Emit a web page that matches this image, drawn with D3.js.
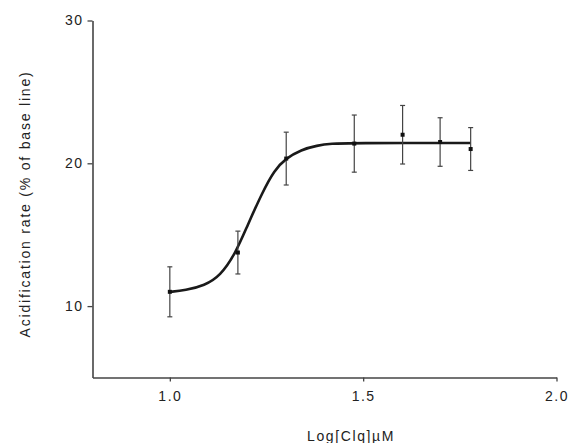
<!DOCTYPE html>
<html>
<head>
<meta charset="utf-8">
<script src="https://cdn.jsdelivr.net/npm/d3@7"></script>
<style>
  body { margin: 0; background: #fff; }
  svg text { font-family: "Liberation Sans", Arial, sans-serif; fill: #222; }
</style>
</head>
<body>
<svg id="chart"></svg>
<script>
// measured points (log concentration, % of base line, sem)
var logConc = [1.0, 1.176, 1.301, 1.477, 1.602, 1.699, 1.778]
var rate = [11.0, 13.75, 20.33, 21.38, 22.0, 21.49, 21.0]
var err = [1.75, 1.5, 1.85, 2.0, 2.05, 1.7, 1.5]

// fitted curve
var fitX = [1.0, 1.0, 1.04, 1.09, 1.13, 1.17, 1.20, 1.24, 1.27, 1.30, 1.34, 1.38, 1.42, 1.46, 1.778, 1.778]
var fitY = [11.0, 11.0, 11.1, 11.45, 12.1, 13.7, 15.6, 18.0, 19.5, 20.35, 20.95, 21.25, 21.38, 21.42, 21.42, 21.42]

var xTicks = [1.0, 1.5, 2.0]
var yTicks = [10, 20, 30]

var width = 570, height = 443

var svg = d3.select('#chart').attr('width', width).attr('height', height)

var x = d3.scaleLinear().domain([0.8, 2.0]).range([92.5, 556.5])
var y = d3.scaleLinear().domain([5, 30]).range([377.5, 20.5])

// axes
svg.append('g')
  .attr('transform', 'translate(0,' + y(5) + ')')
  .call(d3.axisBottom(x).tickValues(xTicks).tickFormat(d3.format('.1f')).tickSizeInner(4).tickSizeOuter(0).tickPadding(10))
svg.append('g')
  .attr('transform', 'translate(' + x(0.8) + ',0)')
  .call(d3.axisLeft(y).tickValues(yTicks).tickSizeInner(5).tickSizeOuter(0).tickPadding(4))

svg.selectAll('.domain').attr('stroke', '#444').attr('stroke-width', 1.6)
svg.selectAll('.tick line').attr('stroke', '#444').attr('stroke-width', 1.3)
svg.selectAll('.tick text')
  .attr('font-size', 14)
  .attr('letter-spacing', '1.5px')
  .attr('fill', '#222')

// curve
var fit = fitX.map(function (d, i) { return [d, fitY[i]] })
svg.append('path')
  .datum(fit)
  .attr('fill', 'none')
  .attr('stroke', '#1a1a1a')
  .attr('stroke-width', 2.6)
  .attr('stroke-linejoin', 'round')
  .attr('d', d3.line()
    .x(function (d) { return x(d[0]) })
    .y(function (d) { return y(d[1]) })
    .curve(d3.curveBasis))

// error bars
var pts = logConc.map(function (d, i) { return { x: d, y: rate[i], e: err[i] } })
var bars = svg.append('g').attr('stroke', '#444').attr('stroke-width', 1.2)
pts.forEach(function (p) {
  var cx = x(p.x)
  bars.append('line').attr('x1', cx).attr('x2', cx).attr('y1', y(p.y + p.e)).attr('y2', y(p.y - p.e))
  bars.append('line').attr('x1', cx - 2.5).attr('x2', cx + 2.5).attr('y1', y(p.y + p.e)).attr('y2', y(p.y + p.e))
  bars.append('line').attr('x1', cx - 2.5).attr('x2', cx + 2.5).attr('y1', y(p.y - p.e)).attr('y2', y(p.y - p.e))
})

// markers
svg.append('g').selectAll('rect')
  .data(pts)
  .enter().append('rect')
  .attr('x', function (d) { return x(d.x) - 2 })
  .attr('y', function (d) { return y(d.y) - 2 })
  .attr('width', 4)
  .attr('height', 4)
  .attr('fill', '#111')

// labels
svg.append('text')
  .attr('x', 351)
  .attr('y', 441)
  .attr('text-anchor', 'middle')
  .attr('font-size', 14)
  .attr('letter-spacing', '1.6px')
  .text('Log[Clq]\u00b5M')

svg.append('text')
  .attr('transform', 'translate(30,204) rotate(-90)')
  .attr('text-anchor', 'middle')
  .attr('font-size', 14)
  .attr('letter-spacing', '1.8px')
  .text('Acidification rate (% of base line)')
</script>
</body>
</html>
